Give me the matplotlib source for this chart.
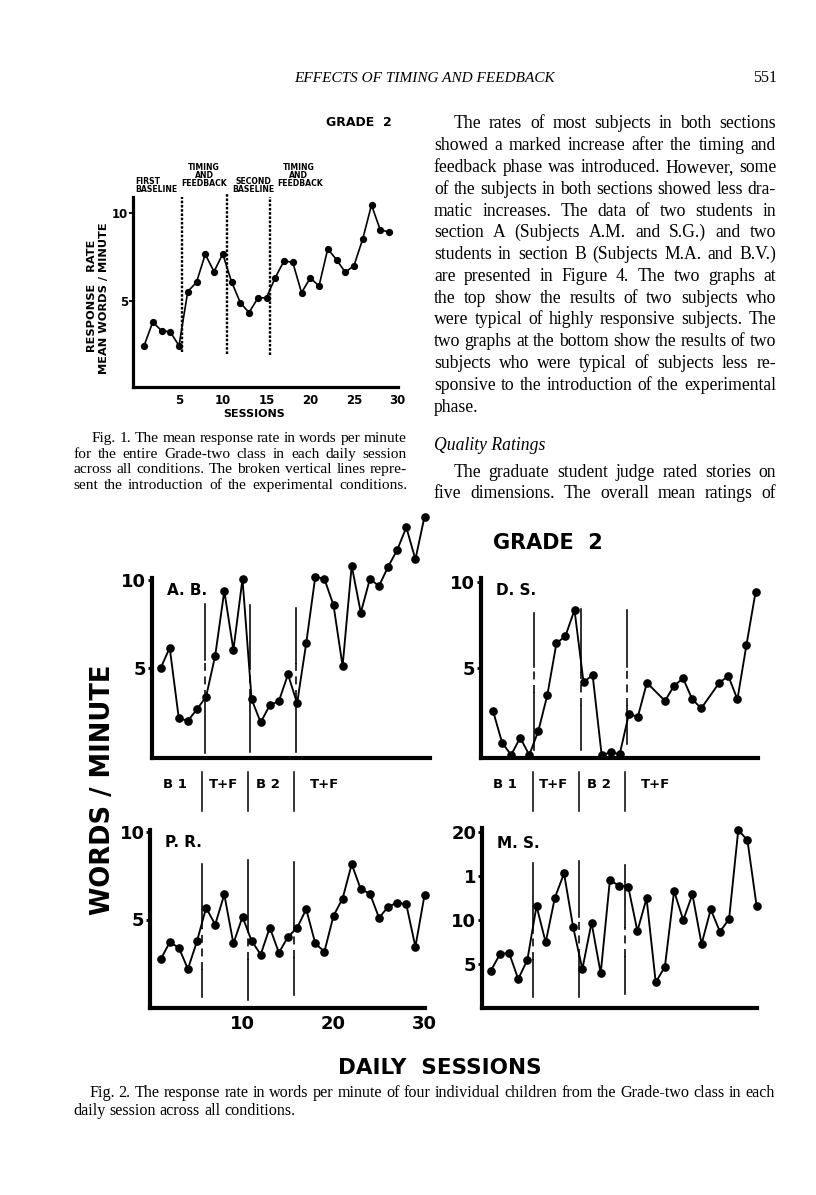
import matplotlib
matplotlib.use("Agg")
import matplotlib.pyplot as plt
from matplotlib.font_manager import FontProperties
from matplotlib.lines import Line2D
from matplotlib import transforms

# ---------------- data ----------------
# Fig. 1 : class mean, Grade 2
fig1_sessions = list(range(1, 30))
fig1_rate = [2.45, 3.81, 3.32, 3.25, 2.47, 5.53, 6.06, 7.64, 6.66, 7.66,
             6.09, 4.91, 4.34, 5.15, 5.19, 6.32, 7.26, 7.19, 5.47, 6.30,
             5.85, 7.94, 7.34, 6.62, 7.00, 8.51, 10.43, 9.02, 8.91]
fig1_phase_changes = [5.3, 10.45, 15.4]
fig1_phase_labels = [["FIRST", "BASELINE"], ["TIMING", "AND", "FEEDBACK"],
                     ["SECOND", "BASELINE"], ["TIMING", "AND", "FEEDBACK"]]
fig1_xticks = [5, 10, 15, 20, 25, 30]
fig1_yticks = [5, 10]

# Fig. 2 : four children
ab_sessions = list(range(1, 31))
ab_rate = [5.0, 6.17, 2.17, 2.04, 2.68, 3.40, 5.72, 9.38, 6.04, 10.06,
           3.25, 1.94, 2.92, 3.15, 4.66, 3.02, 6.42, 10.19, 10.06, 8.58,
           5.13, 10.81, 8.15, 10.06, 9.66, 10.75, 11.70, 12.98, 11.17, 13.58]
ab_phases = [5.85, 10.8, 15.9]

ds_sessions = [1, 2, 3, 4, 5, 6, 7, 8, 9, 10, 11, 12, 13, 14, 15, 16, 17, 18,
               20, 21, 22, 23, 24, 26, 27, 28, 29, 30]
ds_rate = [2.54, 0.71, 0.0, 1.0, 0.0, 1.38, 3.46, 6.44, 6.87, 8.37,
           4.19, 4.62, 0.0, 0.15, 0.05, 2.35, 2.21, 4.17,
           3.12, 4.0, 4.42, 3.23, 2.69, 4.17, 4.56, 3.21, 6.35, 9.38]
ds_phases = [5.5, 10.7, 15.8]

pr_sessions = list(range(1, 31))
pr_rate = [2.72, 3.69, 3.40, 2.17, 3.76, 5.67, 4.71, 6.43, 3.63, 5.15,
           3.78, 3.0, 4.54, 3.10, 4.01, 4.52, 5.59, 3.63, 3.16, 5.21,
           6.20, 8.16, 6.73, 6.48, 5.10, 5.72, 5.97, 5.86, 3.44, 6.39]
pr_phases = [5.6, 10.6, 15.7]

ms_sessions = list(range(1, 31))
ms_rate = [4.19, 6.08, 6.27, 3.29, 5.44, 11.56, 7.44, 12.5, 15.26, 9.14,
           4.42, 9.67, 3.93, 14.5, 13.86, 13.75, 8.73, 12.43, 2.91, 4.68,
           13.26, 9.97, 12.88, 7.25, 11.18, 8.65, 10.09, 20.17, 19.04, 11.56]
ms_phases = [5.6, 10.6, 15.6]

fig2_phase_names = ["B 1", "T+F", "B 2", "T+F"]
fig2_phase_name_pos = [2.6, 7.9, 12.8, 19.0]
left_yticks = [5, 10]
pr_xticks = [10, 20, 30]
ms_yticks = [5, 10, 15, 20]
ms_yticklabels = ["5", "10", "1", "20"]

header_title = "EFFECTS OF TIMING AND FEEDBACK"
page_number = "551"
body_par1 = ["The rates of most subjects in both sections",
             "showed a marked increase after the timing and",
             "feedback phase was introduced. However, some",
             "of the subjects in both sections showed less dra-",
             "matic increases. The data of two students in",
             "section A (Subjects A.M. and S.G.) and two",
             "students in section B (Subjects M.A. and B.V.)",
             "are presented in Figure 4. The two graphs at",
             "the top show the results of two subjects who",
             "were typical of highly responsive subjects. The",
             "two graphs at the bottom show the results of two",
             "subjects who were typical of subjects less re-",
             "sponsive to the introduction of the experimental",
             "phase."]
body_heading = "Quality Ratings"
body_par2 = ["The graduate student judge rated stories on",
             "five dimensions. The overall mean ratings of"]
fig1_caption = ["Fig. 1. The mean response rate in words per minute",
                "for the entire Grade-two class in each daily session",
                "across all conditions. The broken vertical lines repre-",
                "sent the introduction of the experimental conditions."]
fig2_caption = ["Fig. 2. The response rate in words per minute of four individual children from the Grade-two class in each",
                "daily session across all conditions."]

# ---------------- figure ----------------
W, H = 816, 1195
fig = plt.figure(figsize=(W / 100, H / 100), dpi=100)
fig.patch.set_facecolor("white")
renderer = fig.canvas.get_renderer()

SANS = ["DejaVu Sans"]
SERIF = ["Liberation Serif", "DejaVu Serif"]


def fx(x):
    return x / W


def fy(y):
    return 1 - y / H


def make_axes(left, right, top, bottom, px0, pxs, py0, pys, lw):
    ax = fig.add_axes([fx(left), fy(bottom), (right - left) / W, (bottom - top) / H])
    ax.set_xlim((left - px0) / pxs, (right - px0) / pxs)
    ax.set_ylim((py0 - bottom) / pys, (py0 - top) / pys)
    ax.patch.set_alpha(0)
    for s in ("top", "right"):
        ax.spines[s].set_visible(False)
    for s in ("left", "bottom"):
        ax.spines[s].set_linewidth(lw)
        ax.spines[s].set_capstyle("projecting")
    return ax


def tw(s, fp):
    w, h, d = renderer.get_text_width_height_descent(s, fp, ismath=False)
    return w


def fit_size(items, family, style="normal", fill=1.0):
    base = 10.0
    fp = FontProperties(family=family, size=base, style=style)
    ratio = max(tw(s, fp) / (x1 - x0) for s, x0, x1 in items)
    return base * fill / ratio


def put_line(s, x0, x1, yb, fp, justify=True):
    words = s.split(" ")
    widths = [tw(w, fp) for w in words]
    space = tw("a a", fp) - tw("aa", fp)
    if justify and len(words) > 1:
        gap = (x1 - x0 - sum(widths)) / (len(words) - 1)
    else:
        gap = space
    x = x0
    for w, wd in zip(words, widths):
        fig.text(fx(x), fy(yb), w, fontproperties=fp, ha="left", va="baseline")
        x += wd + gap


# ---------------- Fig. 1 ----------------
ax1 = make_axes(132.7, 398, 197, 386.7, 135.25, 8.75, 389.3, 17.67, 2.3)
for x, top, bot in zip(fig1_phase_changes, [10.87, 11.13, 10.87], [2.13, 2.0, 1.94]):
    ax1.plot([x, x], [bot, top], color="k", lw=1.7, ls=(0, (1.1, 0.7)),
             clip_on=False, zorder=2)
ax1.plot(fig1_sessions, fig1_rate, "-o", color="k", lw=1.2, ms=4.2,
         clip_on=False, zorder=3)
ax1.set_xticks(fig1_xticks)
ax1.set_xticklabels([str(t) for t in fig1_xticks], fontsize=8.5,
                    fontweight="bold", family=SANS)
ax1.tick_params(axis="x", length=0, pad=5)
ax1.set_yticks(fig1_yticks)
ax1.set_yticklabels([str(t) for t in fig1_yticks], fontsize=8.5,
                    fontweight="bold", family=SANS)
ax1.tick_params(axis="y", length=3, width=1.3, pad=0.5)

fp_small = FontProperties(family=SANS, weight="bold", size=5.6)
# phase labels (page px positions)
lab_specs = [(135.5, [181.5, 189.5], "left"),
             (204.0, [167.0, 175.5, 184.0], "center"),
             (253.0, [181.5, 189.5], "center"),
             (277.0, [167.0, 175.5, 184.0], "left")]
for (lx, ys, ha), lines in zip(lab_specs, fig1_phase_labels):
    for i, (yy, tline) in enumerate(zip(ys, lines)):
        xx = lx
        if ha == "left" and len(lines) == 3 and i < 2:
            xx = lx + (6 if i == 0 else 12)
        fig.text(fx(xx), fy(yy), tline, fontproperties=fp_small, ha=ha, va="center")

fig.text(fx(359), fy(123), "GRADE  2", fontsize=9, fontweight="bold",
         family=SANS, ha="center", va="center")
fig.text(fx(254), fy(414), "SESSIONS", fontsize=8, fontweight="bold",
         family=SANS, ha="center", va="center")
fig.text(fx(91.7), fy(296), "RESPONSE   RATE", fontsize=8.2, fontweight="bold",
         family=SANS, ha="center", va="center", rotation=90)
fig.text(fx(104.5), fy(298), "MEAN WORDS / MINUTE", fontsize=8.2,
         fontweight="bold", family=SANS, ha="center", va="center", rotation=90)

# ---------------- Fig. 2 ----------------
def draw_panel(ax, sessions, rate, phases, tops, bottoms, dlos, dhis):
    for x, t, b, lo, hi in zip(phases, tops, bottoms, dlos, dhis):
        ax.plot([x, x], [hi, t], color="k", lw=1.15, clip_on=False, zorder=2)
        ax.plot([x, x], [lo, hi], color="k", lw=1.15, ls=(0, (5, 3.5)),
                clip_on=False, zorder=2)
        ax.plot([x, x], [b, lo], color="k", lw=1.15, clip_on=False, zorder=2)
    ax.plot(sessions, rate, "-o", color="k", lw=1.35, ms=5.2,
            clip_on=False, zorder=3)


TICKFS = 13
ax_ab = make_axes(151.7, 430, 578, 758.3, 151.5, 9.1, 756.7, 17.67, 3.0)
draw_panel(ax_ab, ab_sessions, ab_rate, ab_phases, [8.64, 8.58, 8.4],
           [0.2, 0.28, 0.28], [3.3, 3.4, 3.3], [5.5, 5.0, 5.3])

ax_pr = make_axes(150, 425, 830, 1008.3, 151.5, 9.1, 1007, 17.5, 3.0)
draw_panel(ax_pr, pr_sessions, pr_rate, pr_phases, [8.19, 8.38, 8.29],
           [0.59, 0.4, 0.68], [2.1, 2.7, 2.8], [4.5, 4.4, 4.6])

ax_ds = make_axes(480.7, 758, 578.3, 758.3, 484, 9.05, 755, 17.33, 3.0)
draw_panel(ax_ds, ds_sessions, ds_rate, ds_phases, [8.17, 8.4, 8.37],
           [0.29, 0.29, 0.63], [3.6, 2.8, 2.8], [5.1, 4.8, 5.1])

ax_ms = make_axes(481.7, 756.7, 828, 1008.3, 481.5, 9.17, 1008, 8.82, 3.0)
draw_panel(ax_ms, ms_sessions, ms_rate, ms_phases, [16.4, 16.7, 16.2],
           [1.28, 1.28, 1.59], [5.4, 5.8, 5.8], [8.5, 10.3, 9.2])

for ax in (ax_ab, ax_pr, ax_ds):
    ax.set_yticks(left_yticks)
    ax.set_yticklabels([str(t) for t in left_yticks], fontsize=TICKFS,
                       fontweight="bold", family=SANS)
ax_ms.set_yticks(ms_yticks)
ax_ms.set_yticklabels(ms_yticklabels, fontsize=TICKFS, fontweight="bold",
                      family=SANS)
for ax in (ax_ab, ax_pr, ax_ds, ax_ms):
    ax.tick_params(axis="y", length=3, width=2, pad=1)
    ax.tick_params(axis="x", length=0)
for ax in (ax_ab, ax_ds, ax_ms):
    ax.set_xticks([])
ax_pr.set_xticks(pr_xticks)
ax_pr.set_xticklabels([str(t) for t in pr_xticks], fontsize=TICKFS,
                      fontweight="bold", family=SANS)
ax_pr.tick_params(axis="x", pad=5)

fp_panel = FontProperties(family=SANS, weight="bold", size=11)
for ax, name in ((ax_ab, "A. B."), (ax_ds, "D. S."), (ax_pr, "P. R."), (ax_ms, "M. S.")):
    ax.text(0.055, 0.93 if ax is not ax_ms else 0.915, name, transform=ax.transAxes,
            fontproperties=fp_panel, ha="left", va="center")

# condition row between panel rows
fp_row = FontProperties(family=SANS, weight="bold", size=9.5)
for ax, phases in ((ax_pr, pr_phases), (ax_ms, ms_phases)):
    tr = transforms.blended_transform_factory(ax.transData, fig.transFigure)
    for x in phases:
        fig.add_artist(Line2D([x, x], [fy(772), fy(811)], color="k", lw=1.1,
                              transform=tr))
    for pos, nm in zip(fig2_phase_name_pos, fig2_phase_names):
        fig.text(pos, fy(784), nm, transform=tr, fontproperties=fp_row,
                 ha="center", va="center")

fig.text(fx(548), fy(543), "GRADE  2", fontsize=15, fontweight="bold",
         family=SANS, ha="center", va="center")
fig.text(fx(103), fy(790), "WORDS / MINUTE", fontsize=18.5, fontweight="bold",
         family=SANS, ha="center", va="center", rotation=90)
fig.text(fx(440), fy(1068), "DAILY  SESSIONS", fontsize=15.5, fontweight="bold",
         family=SANS, ha="center", va="center")

# ---------------- page text ----------------
fp_head = FontProperties(family=SERIF, style="italic", size=11)
fig.text(fx(424), fy(82), header_title, fontproperties=fp_head, ha="center",
         va="baseline")
fig.text(fx(777), fy(82), page_number,
         fontproperties=FontProperties(family=SERIF, size=11.5),
         ha="right", va="baseline")

# body column
BX0, BX1, IND = 434, 776, 19.5
items = [(s, BX0 + (IND if i == 0 else 0), BX1) for i, s in enumerate(body_par1[:-1])]
items += [(body_par2[0], BX0 + IND, BX1), (body_par2[1], BX0, BX1)]
bsize = fit_size(items, SERIF, fill=1.0)
fp_body = FontProperties(family=SERIF, size=bsize)
for i, s in enumerate(body_par1):
    yb = 128.3 + 21.8 * i
    x0 = BX0 + (IND if i == 0 else 0)
    put_line(s, x0, BX1, yb, fp_body, justify=(i < len(body_par1) - 1))
fig.text(fx(BX0), fy(449.5), body_heading,
         fontproperties=FontProperties(family=SERIF, style="italic", size=bsize),
         ha="left", va="baseline")
for i, s in enumerate(body_par2):
    yb = 476.5 + 21.8 * i
    x0 = BX0 + (IND if i == 0 else 0)
    put_line(s, x0, BX1, yb, fp_body, justify=True)

# Fig. 1 caption
CX0, CX1, CIND = 73, 407, 18.5
items = [(s, CX0 + (CIND if i == 0 else 0), CX1) for i, s in enumerate(fig1_caption)]
csize = fit_size(items, SERIF, fill=1.0)
fp_cap = FontProperties(family=SERIF, size=csize)
for i, s in enumerate(fig1_caption):
    put_line(s, CX0 + (CIND if i == 0 else 0), CX1, 442 + 15.7 * i, fp_cap, True)

# Fig. 2 caption
GX0, GX1, GIND = 73, 775, 16
items = [(fig2_caption[0], GX0 + GIND, GX1)]
gsize = fit_size(items, SERIF, fill=1.0)
fp_cap2 = FontProperties(family=SERIF, size=gsize)
put_line(fig2_caption[0], GX0 + GIND, GX1, 1097, fp_cap2, True)
put_line(fig2_caption[1], GX0, GX1, 1115, fp_cap2, False)

fig.savefig("out.png", dpi=100, facecolor="white")
